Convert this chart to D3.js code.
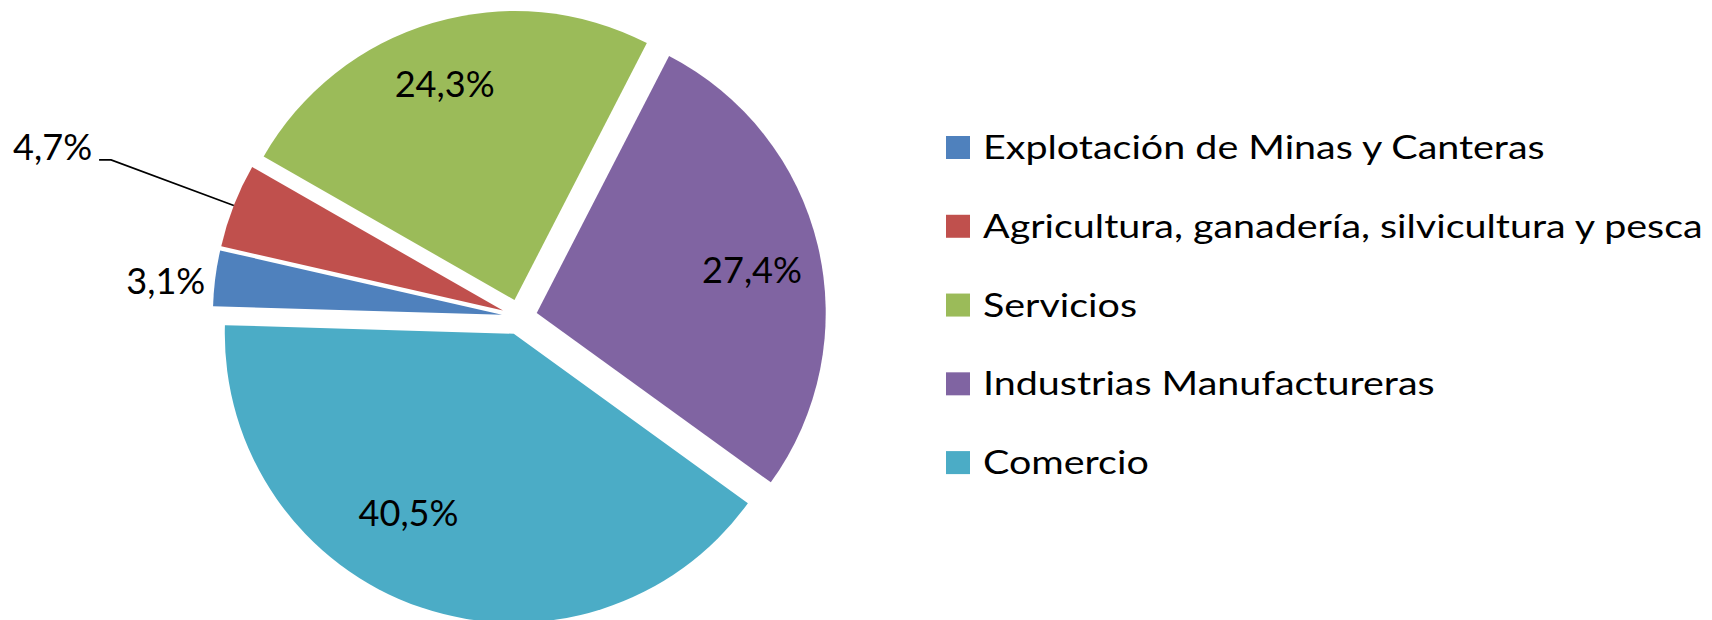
<!DOCTYPE html>
<html><head><meta charset="utf-8">
<script src="https://cdn.jsdelivr.net/npm/d3@7"></script>
<style>html,body{margin:0;padding:0;background:#fff;} svg{display:block;}</style>
</head><body>
<svg id="chart" width="1712" height="620"></svg>
<script>
// ---- data ----
const categories = ["Explotación de Minas y Canteras", "Agricultura, ganadería, silvicultura y pesca", "Servicios", "Industrias Manufactureras", "Comercio"];
const values = [3.1, 4.7, 24.3, 27.4, 40.5];
const valueLabels = ["3,1%", "4,7%", "24,3%", "27,4%", "40,5%"];
const colors = ["#4F81BD", "#C0504D", "#9BBB59", "#8064A2", "#4BACC6"];

// ---- layout ----
const svg = d3.select("#chart");
const cx = 519.5, cy = 317, R = 289, explode = 17.7;
const deg = Math.PI / 180;
const startA = -88.3 * deg;
const FONT = "Lato, 'Open Sans', sans-serif";
const labelFs = 37, legendFs = 32.5;

const labelLayout = [
  {mode: "outside"},
  {mode: "leader"},
  {mode: "inside", shift: -1.4, rf: 0.787},
  {mode: "inside", shift: 2, rf: 0.76},
  {mode: "inside", shift: 11.6, rf: 0.72}
];

const color = d3.scaleOrdinal().domain(categories).range(colors);
const pie = d3.pie().sort(null).value(d => d).startAngle(startA).endAngle(startA + 2 * Math.PI);
const arcs = pie(values);
const arc = d3.arc().innerRadius(0).outerRadius(R);

const root = svg.append("g").attr("transform", `translate(${cx},${cy})`);

// measure text compression factors
function measure(txt, fs) {
  const t = svg.append("text").attr("font-family", FONT).attr("font-size", fs).text(txt);
  const w = t.node().getComputedTextLength();
  t.remove();
  return w;
}
const labelSx = 100 / measure("24,3%", labelFs);
const legendSx = 720 / measure(categories[1], legendFs);
const capH = 0.7165;

arcs.forEach((a, i) => {
  const mid = (a.startAngle + a.endAngle) / 2;
  const ox = explode * Math.sin(mid), oy = -explode * Math.cos(mid);
  const g = root.append("g").attr("transform", `translate(${ox},${oy})`);
  g.append("path").attr("d", arc(a)).attr("fill", color(categories[i]));

  const L = labelLayout[i];
  if (L.mode === "inside") {
    const ang = mid + L.shift * deg;
    const x = L.rf * R * Math.sin(ang), y = -L.rf * R * Math.cos(ang);
    g.append("text")
      .attr("transform", `translate(${x},${y + capH * labelFs / 2}) scale(${labelSx},1)`)
      .attr("text-anchor", "middle").attr("font-family", FONT).attr("font-size", labelFs)
      .attr("fill", "#000").text(valueLabels[i]);
  } else if (L.mode === "outside") {
    const px = R * Math.sin(mid), py = -R * Math.cos(mid);
    g.append("text")
      .attr("transform", `translate(${px - 10},${py + 3 + capH * labelFs / 2}) scale(${labelSx},1)`)
      .attr("text-anchor", "end").attr("font-family", FONT).attr("font-size", labelFs)
      .attr("fill", "#000").text(valueLabels[i]);
  } else {
    const px = R * Math.sin(mid), py = -R * Math.cos(mid);
    const pts = [[px, py], [px - 122.7, py - 45.6], [px - 134.7, py - 45.6]];
    g.append("path").attr("d", d3.line()(pts)).attr("fill", "none")
      .attr("stroke", "#000").attr("stroke-width", 1.6);
    g.append("text")
      .attr("transform", `translate(${px - 141.7},${py - 45.6}) scale(${labelSx},1)`)
      .attr("text-anchor", "end").attr("font-family", FONT).attr("font-size", labelFs)
      .attr("fill", "#000").text(valueLabels[i]);
  }
});

// legend
const ly = d3.scalePoint().domain(categories).range([147.5, 462.6]);
const leg = svg.append("g");
categories.forEach(c => {
  const y = ly(c);
  leg.append("rect").attr("x", 946).attr("y", y - 11.5).attr("width", 24).attr("height", 23)
    .attr("fill", color(c));
  leg.append("text")
    .attr("transform", `translate(983,${y + capH * legendFs / 2}) scale(${legendSx},1)`)
    .attr("font-family", FONT).attr("font-size", legendFs).attr("fill", "#000").text(c);
});
</script>
</body></html>
